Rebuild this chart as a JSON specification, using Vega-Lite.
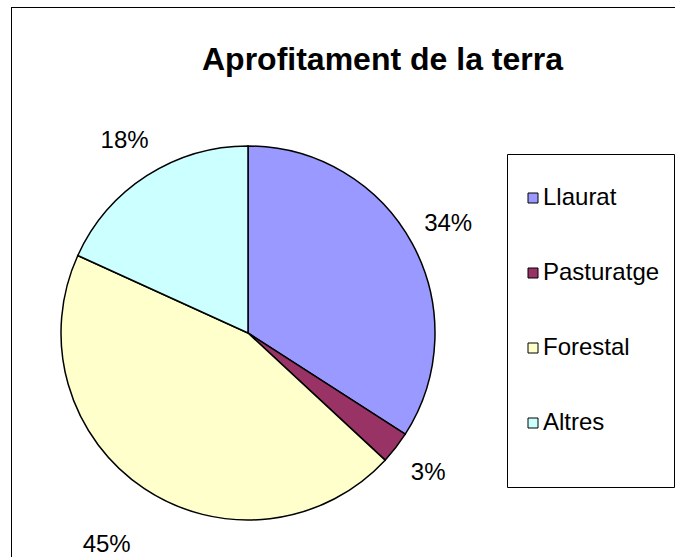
{
  "$schema": "https://vega.github.io/schema/vega-lite/v6.json",
  "width": 664,
  "height": 550,
  "autosize": {"type": "none"},
  "padding": {"left": 11, "top": 7, "right": 0, "bottom": 0},
  "background": "white",
  "config": {"view": {"stroke": null}, "style": {"view": {"stroke": null}}, "font": "Liberation Sans"},
  "title": {"text": "Aprofitament de la terra", "font": "Liberation Sans", "fontSize": 32, "fontWeight": "bold", "color": "black", "anchor": "start", "frame": "group", "dx": 191, "dy": 95, "offset": 0, "baseline": "alphabetic"},
  "data": {"values": [
    {"category": "Llaurat", "value": 0.341, "i": 1},
    {"category": "Pasturatge", "value": 0.028, "i": 2},
    {"category": "Forestal", "value": 0.449, "i": 3},
    {"category": "Altres", "value": 0.182, "i": 4}
  ]},
  "layer": [
    {
      "transform": [{"aggregate": [{"op": "count", "as": "n"}]}],
      "mark": {"type": "rect", "fill": null, "stroke": "black", "strokeWidth": 2, "clip": true},
      "encoding": {"x": {"value": 0}, "y": {"value": 0}, "x2": {"value": 720}, "y2": {"value": 600}}
    },
    {
      "mark": {"type": "arc", "x": 237, "y": 326, "outerRadius": 187, "stroke": "black", "strokeWidth": 1.5},
      "encoding": {
        "theta": {"field": "value", "type": "quantitative", "stack": true},
        "order": {"field": "i", "type": "quantitative"},
        "color": {
          "field": "category", "type": "nominal", "sort": null,
          "scale": {"domain": ["Llaurat", "Pasturatge", "Forestal", "Altres"], "range": ["#9999FF", "#993366", "#FFFFCC", "#CCFFFF"]},
          "legend": {
            "orient": "none", "legendX": 496, "legendY": 147,
            "title": " ", "titleOrient": "bottom", "titleFontSize": 10, "titlePadding": 10,
            "strokeColor": "black", "fillColor": "white", "padding": 14,
            "symbolType": "square", "symbolSize": 100, "symbolStrokeColor": "black", "symbolStrokeWidth": 1, "symbolOpacity": 1,
            "labelFont": "Liberation Sans", "labelFontSize": 24, "labelColor": "black", "labelOffset": -2,
            "clipHeight": 60, "rowPadding": 15
          }
        }
      }
    },
    {
      "mark": {"type": "text", "x": 237, "y": 326, "radius": 228, "fontSize": 24, "font": "Liberation Sans", "color": "black"},
      "encoding": {
        "theta": {"field": "value", "type": "quantitative", "stack": true},
        "order": {"field": "i", "type": "quantitative"},
        "text": {"condition": {"test": "datum.category !== 'Forestal'", "field": "value", "type": "quantitative", "format": ".0%"}, "value": ""}
      }
    },
    {
      "mark": {"type": "text", "x": 237, "y": 326, "radius": 255, "fontSize": 24, "font": "Liberation Sans", "color": "black"},
      "encoding": {
        "theta": {"field": "value", "type": "quantitative", "stack": true},
        "order": {"field": "i", "type": "quantitative"},
        "text": {"condition": {"test": "datum.category === 'Forestal'", "field": "value", "type": "quantitative", "format": ".0%"}, "value": ""}
      }
    }
  ]
}
